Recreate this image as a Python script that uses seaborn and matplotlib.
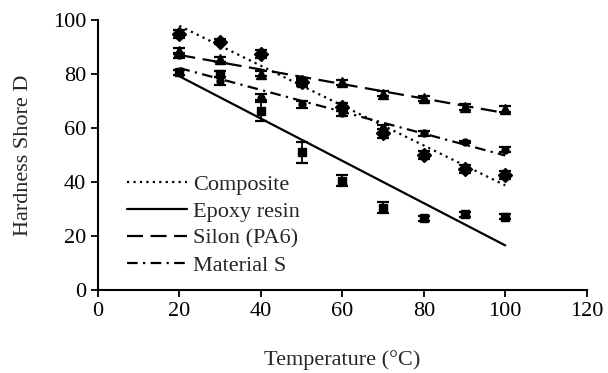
import numpy as np
import pandas as pd
import seaborn as sns
import matplotlib
matplotlib.use("Agg")
import matplotlib.pyplot as plt


# datos
temperature = [20, 30, 40, 50, 60, 70, 80, 90, 100]

composite = [94.7, 92.0, 87.6, 77.2, 67.8, 58.0, 50.0, 45.0, 42.7]
composite_err = [1.5, 1.0, 1.5, 1.5, 1.5, 1.5, 1.5, 1.5, 1.5]

epoxy = [80.6, 80.0, 66.5, 51.0, 40.5, 30.5, 26.5, 28.0, 27.2]
epoxy_err = [0.8, 1.0, 4.0, 4.0, 2.0, 2.0, 1.0, 1.0, 1.0]

silon = [88.5, 85.5, 80.2, 77.0, 77.0, 72.8, 71.0, 67.9, 67.0]
silon_err = [1.2, 1.0, 1.0, 1.0, 1.0, 0.8, 0.8, 1.2, 1.2]

material_s = [87.0, 77.5, 71.0, 68.8, 65.5, 59.8, 58.0, 54.8, 52.0]
material_s_err = [1.0, 1.5, 1.5, 1.2, 1.0, 1.5, 1.0, 0.5, 1.0]

labels = ["Composite", "Epoxy resin", "Silon (PA6)", "Material S"]

##############

sns.set_style("ticks")
plt.rcParams["font.family"] = ["Liberation Serif", "DejaVu Serif"]
plt.rcParams["font.size"] = 16

df = pd.DataFrame({
    "temp": temperature,
    "Composite": composite,
    "Epoxy resin": epoxy,
    "Silon (PA6)": silon,
    "Material S": material_s,
})
errors = {
    "Composite": composite_err,
    "Epoxy resin": epoxy_err,
    "Silon (PA6)": silon_err,
    "Material S": material_s_err,
}
markers = {"Composite": "D", "Epoxy resin": "s", "Silon (PA6)": "^", "Material S": "o"}
msizes = {"Composite": 7, "Epoxy resin": 6, "Silon (PA6)": 7, "Material S": 5}
dashes = {
    "Composite": (0, (1, 1.9)),
    "Epoxy resin": "-",
    "Silon (PA6)": (0, (7.2, 3.4)),
    "Material S": (0, (4.8, 2.4, 1, 2.4)),
}

fig = plt.figure(figsize=(6.08, 3.73), dpi=100)
ax = fig.add_axes([0.161, 0.2225, 0.804, 0.7235])

for name in labels:
    # linea de tendencia lineal
    sns.regplot(x="temp", y=name, data=df, ax=ax, scatter=False, ci=None,
                color="black", label=name,
                line_kws={"linestyle": dashes[name], "linewidth": 1.6})
    ax.errorbar(df["temp"], df[name], yerr=errors[name], fmt=markers[name],
                color="black", markersize=msizes[name], capsize=4,
                elinewidth=1.3, capthick=1.6, label="_nolegend_")

ax.set_xlim(0, 120)
ax.set_ylim(0, 100)
ax.set_xticks(range(0, 121, 20))
ax.set_yticks(range(0, 101, 20))
ax.set_xlabel("Temperature (°C)", labelpad=21)
ax.set_ylabel("Hardness Shore D", labelpad=14)
ax.tick_params(direction="out", length=5, width=1.3, colors="black", labelsize=16)
sns.despine(ax=ax)
for sp in ["left", "bottom"]:
    ax.spines[sp].set_linewidth(1.5)
    ax.spines[sp].set_color("black")

handles = [h for h in ax.get_lines() if h.get_label() in labels]
ax.legend(handles=handles, labels=[h.get_label() for h in handles],
          loc="upper left", bbox_to_anchor=(0.059, 0.43), frameon=False,
          borderpad=0, borderaxespad=0, handlelength=2.7, handletextpad=0.3,
          labelspacing=0.29, fontsize=16)

fig.savefig("out.png", dpi=100)
